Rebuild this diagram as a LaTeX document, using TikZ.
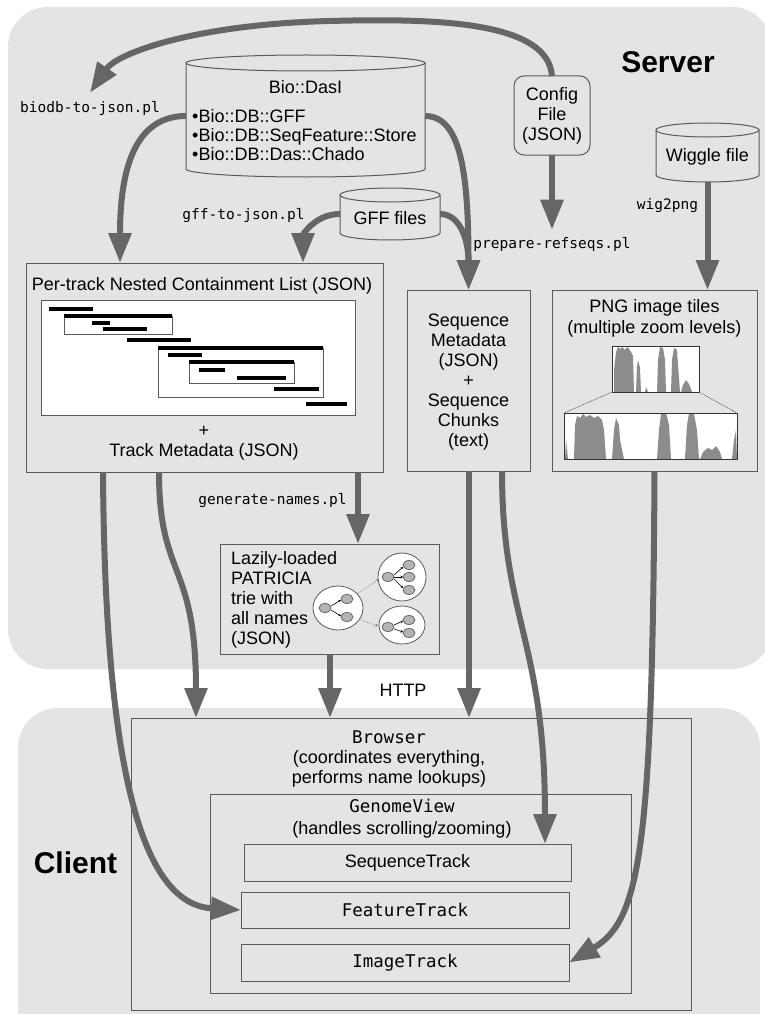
\documentclass[tikz,border=0pt]{standalone}
\usepackage{fontspec}
\setmainfont{Liberation Sans}
\newfontfamily\monof{DejaVu Sans Mono}
\usetikzlibrary{arrows.meta}
\definecolor{bgray}{HTML}{E4E4E4}
\definecolor{flow}{HTML}{666666}
\definecolor{edgec}{HTML}{5A5A5A}
\definecolor{hist}{HTML}{8C8C8C}
\definecolor{tnode}{HTML}{B4B4B4}
\tikzset{
 region/.style={fill=bgray, draw=none, rounded corners=40pt},
 box/.style={draw=edgec, line width=1pt, rectangle, inner sep=0pt, outer sep=0pt},
 ghost/.style={rectangle, inner sep=0pt, outer sep=0pt},
 flowarrow/.style={draw=flow, line width=6pt, -{Triangle[width=22pt,length=30pt]}},
 txt/.style={font=\fontsize{18}{20}\selectfont, inner sep=0pt, align=center, text=black},
 mtxt/.style={font=\monof\fontsize{17.5}{20}\selectfont, inner sep=0pt, align=center},
 lbl/.style={font=\monof\fontsize{14.5}{16}\selectfont, inner sep=0pt},
 bigl/.style={font=\bfseries\fontsize{30}{32}\selectfont, inner sep=0pt},
 bar/.style={line width=3.5pt, black},
 nest/.style={draw=edgec, line width=0.9pt},
 cylline/.style={draw=edgec, line width=1pt},
 trieout/.style={draw=edgec, line width=0.8pt, fill=white},
 trien/.style={draw=edgec, line width=0.7pt, fill=tnode},
 tarr/.style={draw=black, line width=0.6pt, -{Stealth[length=2.5pt,width=2.5pt]}},
 darr/.style={draw=gray, line width=0.7pt, densely dotted, -{Stealth[length=3pt,width=3pt]}},
 histf/.style={fill=hist, draw=none},
}
\newcommand\mycyl[5]{% cx, rx, ytop, ybot, ry
 \draw[cylline] ({#1-#2},#3) -- ({#1-#2},#4) arc[start angle=180, end angle=360, x radius=#2pt, y radius=#5pt] -- ({#1+#2},#3);
 \draw[cylline] (#1,#3) ellipse[x radius=#2pt, y radius=#5pt];}
\begin{document}
\begin{tikzpicture}[x=1pt, y=-1pt]
\useasboundingbox (0,0) rectangle (764,1014);
\fill[white] (0,0) rectangle (764,1014);
% regions
\fill[region] (8,7) rectangle (772,669);
\fill[region] (18,708) rectangle (760,1070);
\node[bigl] (server) at (668,62) {Server};
\node[bigl] (client) at (75.5,863) {Client};

% Bio::DasI cylinder
\mycyl{305.5}{119.5}{63}{169}{8}
\node[ghost, minimum width=239pt, minimum height=122pt] (dasi) at (305.5,116) {};
\node[txt] at (305.5,87) {Bio::DasI};
\node[txt, align=left, anchor=west, font=\fontsize{18}{19}\selectfont] at (192,135) {•Bio::DB::GFF\\•Bio::DB::SeqFeature::Store\\•Bio::DB::Das::Chado};

% GFF files cylinder
\mycyl{390}{50}{195}{233}{7}
\node[ghost, minimum width=100pt, minimum height=52pt] (gff) at (390,214) {};
\node[txt] at (390,218) {GFF files};

% Wiggle file
\mycyl{707.5}{51.5}{130}{175}{7}
\node[ghost, minimum width=103pt, minimum height=59pt] (wig) at (707.5,152.5) {};
\node[txt] at (707.5,157) {Wiggle file};

% Config
\node[box, rounded corners=10pt, minimum width=76pt, minimum height=79pt, txt] (config) at (552,115.5) {Config\\File\\(JSON)};

% labels
\node[lbl] (biodb) at (90,108) {biodb-to-json.pl};
\node[lbl] (gfftojson) at (243.5,216) {gff-to-json.pl};
\node[lbl] (prep) at (552,244) {prepare-refseqs.pl};
\node[lbl] (wig2png) at (667.5,206) {wig2png};
\node[lbl] (gennames) at (272.5,501) {generate-names.pl};
\node[txt] (http) at (403,690) {HTTP};

% NCList box
\node[box, minimum width=357pt, minimum height=209pt] (nclist) at (204.5,367.5) {};
\node[txt] at (202,286) {Per-track Nested Containment List (JSON)};
\draw[nest, fill=white] (41,300) rectangle (355,415);
\draw[nest] (64,316) rectangle (172,334);
\draw[nest] (158,348) rectangle (323,397);
\draw[nest] (189,362) rectangle (294,383);
\draw[bar] (49,309) -- (93,309);
\draw[bar] (64,316) -- (172,316);
\draw[bar] (92,323) -- (110,323);
\draw[bar] (103,329) -- (147,329);
\draw[bar] (127,340) -- (191,340);
\draw[bar] (158,348) -- (323,348);
\draw[bar] (168,355) -- (202,355);
\draw[bar] (189,362) -- (294,362);
\draw[bar] (199,370) -- (225,370);
\draw[bar] (237,378) -- (286,378);
\draw[bar] (274,389) -- (319,389);
\draw[bar] (306,404) -- (347,404);
\node[txt] at (204,443) {+\\Track Metadata (JSON)};

% Sequence box
\node[box, minimum width=123pt, minimum height=181pt] (seq) at (468.5,380.5) {};
\node[txt] at (468.5,382) {Sequence\\Metadata\\(JSON)\\+\\Sequence\\Chunks\\(text)};

% PNG box
\node[box, minimum width=205pt, minimum height=181pt] (png) at (654.5,380.5) {};
\node[txt, font=\fontsize{18}{21}\selectfont] at (654.5,318.5) {PNG image tiles\\(multiple zoom levels)};
\fill[white] (612,346) rectangle (699,392);
\fill[histf] (614,392) -- (614,370) -- (616,352) -- (618,347) -- (620,349) -- (622,347) -- (625,350) -- (627,347) -- (629,349) -- (631,352) -- (633,356) -- (634,392) -- cycle;
\fill[histf] (636,392) -- (637,366) -- (638,360) -- (640,368) -- (641,392) -- cycle;
\fill[histf] (645,392) -- (646,387) -- (648,392) -- cycle;
\fill[histf] (657,392) -- (658,360) -- (660,347) -- (663,348) -- (665,360) -- (666,392) -- cycle;
\fill[histf] (671,392) -- (672,360) -- (674,348) -- (677,350) -- (678,365) -- (680,392) -- cycle;
\fill[histf] (681,392) -- (683,385) -- (686,380) -- (689,384) -- (692,392) -- cycle;
\draw[draw=black!80, line width=1pt] (612,346) rectangle (699,392);
\fill[white] (564,413) rectangle (737,459);
\fill[histf] (565,459) -- (566,440) -- (568,459) -- cycle;
\fill[histf] (574,459) -- (575,425) -- (577,416) -- (580,418) -- (583,414) -- (586,417) -- (590,415) -- (594,418) -- (598,416) -- (602,420) -- (604,430) -- (606,459) -- cycle;
\fill[histf] (612,459) -- (614,430) -- (616,418) -- (619,425) -- (620,440) -- (622,450) -- (624,459) -- cycle;
\fill[histf] (657,459) -- (659,430) -- (661,414) -- (666,413) -- (669,425) -- (671,459) -- cycle;
\fill[histf] (685,459) -- (687,425) -- (689,413) -- (694,414) -- (697,430) -- (699,459) -- cycle;
\fill[histf] (700,459) -- (703,452) -- (708,448) -- (712,450) -- (716,446) -- (720,452) -- (722,459) -- cycle;
\fill[histf] (732,459) -- (734,440) -- (736,430) -- (737,459) -- cycle;
\draw[draw=black!80, line width=1pt] (564,413) rectangle (737,459);
\draw[black!70, densely dotted, line width=0.8pt] (612,392) -- (564,413);
\draw[black!70, densely dotted, line width=0.8pt] (699,392) -- (737,413);

% Trie box
\node[box, minimum width=219pt, minimum height=110pt] (trie) at (329.5,599) {};
\node[txt, align=left, anchor=west] at (231,600) {Lazily-loaded\\PATRICIA\\trie with\\all names\\(JSON)};
\draw[trieout] (338,608) ellipse[x radius=25pt, y radius=22pt];
\draw[trieout] (402,577) ellipse[x radius=24pt, y radius=24pt];
\draw[trieout] (402,625) ellipse[x radius=23pt, y radius=19pt];
\draw[darr] (357,594) -- (379,579);
\draw[darr] (361,620) -- (378,626);
\draw[tarr] (331,606) -- (341,600);
\draw[tarr] (331,610) -- (341,616);
\draw[tarr] (394,575) -- (403,567);
\draw[tarr] (394,577) -- (403,577);
\draw[tarr] (394,579) -- (403,588);
\draw[tarr] (394,625) -- (403,621);
\draw[tarr] (394,629) -- (403,632);
\draw[trien] (325,608) ellipse[x radius=6pt, y radius=4.5pt];
\draw[trien] (347,599) ellipse[x radius=6pt, y radius=4.5pt];
\draw[trien] (347,617) ellipse[x radius=6pt, y radius=4.5pt];
\draw[trien] (388,577) ellipse[x radius=6pt, y radius=4.5pt];
\draw[trien] (409,565) ellipse[x radius=6pt, y radius=4.5pt];
\draw[trien] (409,577) ellipse[x radius=6pt, y radius=4.5pt];
\draw[trien] (409,590) ellipse[x radius=6pt, y radius=4.5pt];
\draw[trien] (388,627) ellipse[x radius=6pt, y radius=4.5pt];
\draw[trien] (409,620) ellipse[x radius=6pt, y radius=4.5pt];
\draw[trien] (409,633) ellipse[x radius=6pt, y radius=4.5pt];

% Client boxes
\node[box, minimum width=560pt, minimum height=292pt] (browser) at (411,864) {};
\node[txt] at (389,759) {{\monof\fontsize{17.5}{20}\selectfont Browser}\\(coordinates everything,\\performs name lookups)};
\node[box, minimum width=421pt, minimum height=199pt] (gview) at (420.5,893.5) {};
\node[txt, font=\fontsize{18}{22}\selectfont] at (402,819) {{\monof\fontsize{17.5}{20}\selectfont GenomeView}\\(handles scrolling/zooming)};
\node[box, minimum width=327pt, minimum height=37pt, txt] (seqtrack) at (407.5,862.5) {SequenceTrack};
\node[box, minimum width=328pt, minimum height=36pt, mtxt] (feattrack) at (405,910) {FeatureTrack};
\node[box, minimum width=328pt, minimum height=37pt, mtxt] (imgtrack) at (405,962.5) {ImageTrack};

% flows
\draw[flowarrow] (config.north) .. controls (548,22) and (440,18) .. (330,21) .. controls (200,24) and (118,52) .. ([yshift=8pt]biodb.north);
\draw[flowarrow] (dasi.west) .. controls +(-56,0) and +(0,-83) .. ([xshift=94pt]nclist.north west);
\draw[flowarrow] (gff.west) .. controls +(-25,0) and +(0,-28) .. ([xshift=277pt]nclist.north west);
\draw[flowarrow] (gff.east) .. controls +(20,0) and +(0,-50) .. (seq.north);
\draw[flowarrow] (dasi.east) .. controls +(35,0) and +(0,-120) .. (seq.north);
\draw[flowarrow] (config.south) -- ([yshift=7pt]prep.north);
\draw[flowarrow] (wig.south) -- ([xshift=155.5pt]png.north west);
\draw[flowarrow] ([xshift=332pt]nclist.south west) -- ([xshift=138pt]trie.north west);
\draw[flowarrow] ([xshift=133pt]nclist.south west) .. controls +(0,108) and +(0,-158) .. ([xshift=65pt]browser.north west);
\draw[flowarrow] ([xshift=77pt]nclist.south west) .. controls +(2,328) and +(-91,-5) .. (feattrack.west);
\draw[flowarrow] ([xshift=110pt]trie.south west) -- ([xshift=199pt]browser.north west);
\draw[flowarrow] ([xshift=62pt]seq.south west) -- ([xshift=338pt]browser.north west);
\draw[flowarrow] ([xshift=95pt]seq.south west) .. controls +(0,149) and +(0,-204) .. ([xshift=301pt]seqtrack.north west);
\draw[flowarrow] (png.south) .. controls +(-2,379) and +(71,-42) .. (imgtrack.east);
\end{tikzpicture}
\end{document}
